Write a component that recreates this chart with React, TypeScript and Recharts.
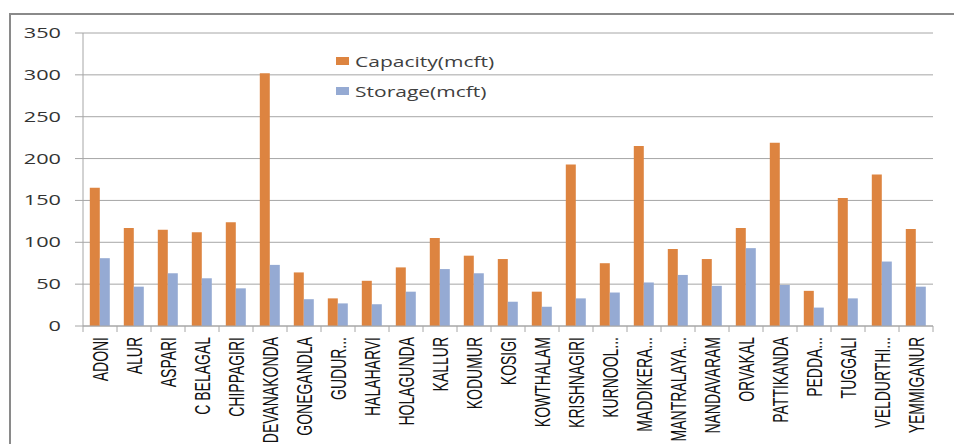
import React from 'react';
import { BarChart, Bar, XAxis, YAxis, CartesianGrid, Legend } from 'recharts';

const categories = [
  'ADONI', 'ALUR', 'ASPARI', 'C BELAGAL', 'CHIPPAGIRI', 'DEVANAKONDA', 'GONEGANDLA', 'GUDUR...',
  'HALAHARVI', 'HOLAGUNDA', 'KALLUR', 'KODUMUR', 'KOSIGI', 'KOWTHALAM', 'KRISHNAGIRI', 'KURNOOL...',
  'MADDIKERA...', 'MANTRALAYA...', 'NANDAVARAM', 'ORVAKAL', 'PATTIKANDA', 'PEDDA...', 'TUGGALI',
  'VELDURTHI...', 'YEMMIGANUR',
];
const capacity = [165, 117, 115, 112, 124, 302, 64, 33, 54, 70, 105, 84, 80, 41, 193, 75, 215, 92, 80, 117, 219, 42, 153, 181, 116];
const storage = [81, 47, 63, 57, 45, 73, 32, 27, 26, 41, 68, 63, 29, 23, 33, 40, 52, 61, 48, 93, 49, 22, 33, 77, 47];
const yTicks = [0, 50, 100, 150, 200, 250, 300, 350];
const seriesNames = ['Capacity(mcft)', 'Storage(mcft)'];

const data = categories.map((name, i) => ({ name, capacity: capacity[i], storage: storage[i] }));

const ORANGE = '#DD8440';
const BLUE = '#95AAD3';
const GRID = '#a6a6a6';
const W = 954;
const H = 520;
const MARGIN = { top: 33, right: 21, left: 23, bottom: 94 };
const Y_W = 60;
const X_H = 100;
const PLOT_W = W - MARGIN.left - Y_W - MARGIN.right;
const BAND = PLOT_W / categories.length;
const X_TICK = 6;
const X_MARGIN = 5;
const SX_Y = 1.55;
const SX_X = 1.6;

const YTick = (props: any) => {
  const { x, y, payload } = props;
  return (
    <g transform={`translate(${x},${y}) scale(${SX_Y},1)`}>
      <text x={0} y={0} dy="0.36em" textAnchor="end" fontFamily="'Open Sans', sans-serif" fontSize={14} fill="#333">
        {payload.value}
      </text>
    </g>
  );
};

const XTick = (props: any) => {
  const { x, y, payload, index } = props;
  const axisY = y - X_TICK - X_MARGIN;
  return (
    <g>
      <line x1={x - BAND / 2} x2={x - BAND / 2} y1={axisY} y2={axisY + X_TICK} stroke={GRID} />
      {index === categories.length - 1 && (
        <line x1={x + BAND / 2} x2={x + BAND / 2} y1={axisY} y2={axisY + X_TICK} stroke={GRID} />
      )}
      <g transform={`translate(${x},${y}) scale(${SX_X},1) rotate(-90)`}>
        <text x={0} y={0} dy="0.36em" textAnchor="end" fontFamily="'Liberation Sans', Arial, sans-serif" fontSize={14} fill="#111">
          {payload.value}
        </text>
      </g>
    </g>
  );
};

const LegendContent = () => {
  const colors = [ORANGE, BLUE];
  return (
    <div>
      {seriesNames.map((n, i) => (
        <div key={n} style={{ display: 'flex', alignItems: 'center', height: 30 }}>
          <div style={{ width: 13, height: 8, background: colors[i], marginRight: 6 }} />
          <span
            style={{
              fontFamily: "'Open Sans', sans-serif",
              fontSize: 15,
              color: '#404040',
              display: 'inline-block',
              transform: 'scaleX(1.4)',
              transformOrigin: 'left center',
              whiteSpace: 'nowrap',
            }}
          >
            {n}
          </span>
        </div>
      ))}
    </div>
  );
};

export default function App() {
  return (
    <div style={{ position: 'absolute', left: 0, top: 0, width: W, height: H, background: '#fff' }}>
      <div
        style={{
          position: 'absolute',
          left: 9,
          top: 13,
          width: 980,
          height: 500,
          border: '2px solid #8a8a8a',
          boxSizing: 'border-box',
        }}
      />
      <div style={{ position: 'absolute', left: 0, top: 0 }}>
        <BarChart width={W} height={H} data={data} margin={MARGIN} barCategoryGap="20%" barGap={0}>
          <CartesianGrid vertical={false} stroke={GRID} />
          <XAxis
            dataKey="name"
            height={X_H}
            interval={0}
            tickSize={X_TICK}
            tickMargin={X_MARGIN}
            tickLine={false}
            axisLine={{ stroke: GRID }}
            tick={<XTick />}
          />
          <YAxis
            width={Y_W}
            domain={[0, 350]}
            ticks={yTicks}
            interval={0}
            tickSize={8}
            tickMargin={14}
            axisLine={{ stroke: GRID }}
            tickLine={{ stroke: GRID }}
            tick={<YTick />}
          />
          <Legend
            layout="vertical"
            verticalAlign="middle"
            align="center"
            content={<LegendContent />}
            wrapperStyle={{ left: 336, top: 46, width: 'auto', height: 'auto' }}
          />
          <Bar dataKey="capacity" name={seriesNames[0]} fill={ORANGE} isAnimationActive={false} />
          <Bar dataKey="storage" name={seriesNames[1]} fill={BLUE} isAnimationActive={false} />
        </BarChart>
      </div>
    </div>
  );
}
